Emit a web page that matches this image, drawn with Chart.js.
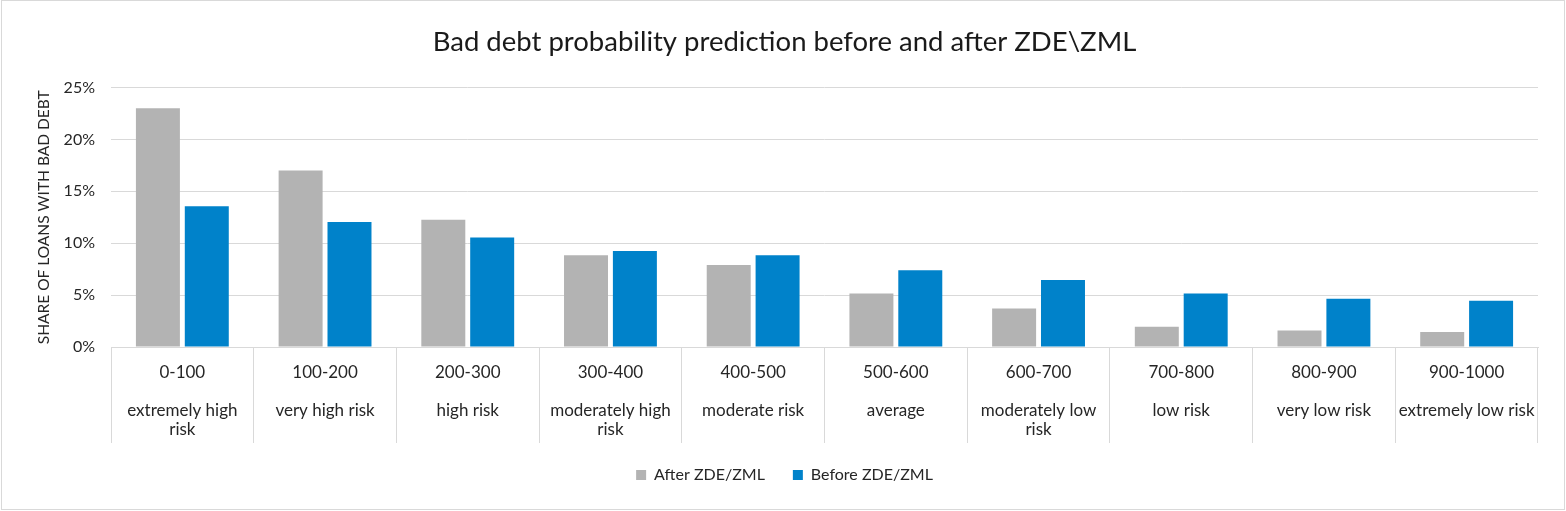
<!DOCTYPE html>
<html>
<head>
<meta charset="utf-8">
<script src="https://cdn.jsdelivr.net/npm/chart.js@4"></script>
<style>
  body { margin: 0; background: #fff; }
  #wrap { position: relative; width: 1566px; height: 511px; }
  #frame {
    position: absolute; left: 1px; top: 0; width: 1564px; height: 510px;
    box-sizing: border-box; border: 1.5px solid #d9d9d9; pointer-events: none;
  }
</style>
</head>
<body>
<div id="wrap">
  <canvas id="debtChart" width="1566" height="511"></canvas>
  <div id="frame"></div>
</div>
<script>
const scoreRanges = ["0-100", "100-200", "200-300", "300-400", "400-500",
  "500-600", "600-700", "700-800", "800-900", "900-1000"];
const riskLabels = ["extremely high\nrisk", "very high risk", "high risk",
  "moderately high\nrisk", "moderate risk", "average", "moderately low\nrisk",
  "low risk", "very low risk", "extremely low risk"];
// share of loans with bad debt, %
const afterValues = [23.0, 17.0, 12.25, 8.85, 7.9, 5.15, 3.7, 1.95, 1.6, 1.45];
const beforeValues = [13.55, 12.05, 10.55, 9.25, 8.85, 7.4, 6.45, 5.15, 4.65, 4.45];
const yTicks = [0, 5, 10, 15, 20, 25];

const FONT = "Lato";
const gridColor = "#d9d9d9";
const textColor = "#262626";

// each x label: range, empty line, then the risk text (maybe wrapped)
const labels = scoreRanges.map(function (r, i) {
  return [r, ""].concat(riskLabels[i].split("\n"));
});

const ctx = document.getElementById("debtChart");

new Chart(ctx, {
  type: "bar",
  data: {
    labels: labels,
    datasets: [
      {
        label: "After ZDE/ZML",
        data: afterValues,
        backgroundColor: "#b3b3b3",
        categoryPercentage: 0.685,
        barPercentage: 0.9,
      },
      {
        label: "Before ZDE/ZML",
        data: beforeValues,
        backgroundColor: "#0082ca",
        categoryPercentage: 0.685,
        barPercentage: 0.9,
      },
    ],
  },
  options: {
    responsive: false,
    animation: false,
    devicePixelRatio: 1,
    layout: {
      padding: { left: 31, right: 28, top: 0, bottom: 18 },
    },
    plugins: {
      title: {
        display: true,
        text: "Bad debt probability prediction before and after ZDE\\ZML",
        color: "#1a1a1a",
        font: { family: FONT, size: 27.5, weight: "normal" },
        padding: { top: 25.5, bottom: 29 },
      },
      legend: {
        position: "bottom",
        labels: {
          boxWidth: 10,
          boxHeight: 10,
          padding: 28,
          color: textColor,
          font: { family: FONT, size: 16 },
        },
      },
      tooltip: { enabled: false },
    },
    scales: {
      x: {
        afterFit: function (scale) {
          // keep the label band fixed; separator lines run through it
          scale.height = 92;
        },
        grid: {
          display: true,
          drawOnChartArea: false,
          drawTicks: true,
          tickLength: 96,
          color: gridColor,
        },
        border: { display: true, color: gridColor },
        ticks: {
          padding: -80,
          maxRotation: 0,
          autoSkip: false,
          color: textColor,
          font: { family: FONT, size: 17, lineHeight: "19px" },
        },
      },
      y: {
        min: 0,
        max: 25,
        afterBuildTicks: function (scale) {
          scale.ticks = yTicks.map(function (v) { return { value: v }; });
        },
        afterFit: function (scale) {
          scale.width = 80;
        },
        grid: { color: gridColor, drawTicks: false },
        border: { display: false },
        ticks: {
          padding: 16,
          color: textColor,
          font: { family: FONT, size: 16 },
          callback: function (v) { return v + "%"; },
        },
        title: {
          display: true,
          text: "SHARE OF LOANS WITH BAD DEBT",
          color: textColor,
          font: { family: FONT, size: 15.5 },
        },
      },
    },
  },
});
</script>
</body>
</html>
